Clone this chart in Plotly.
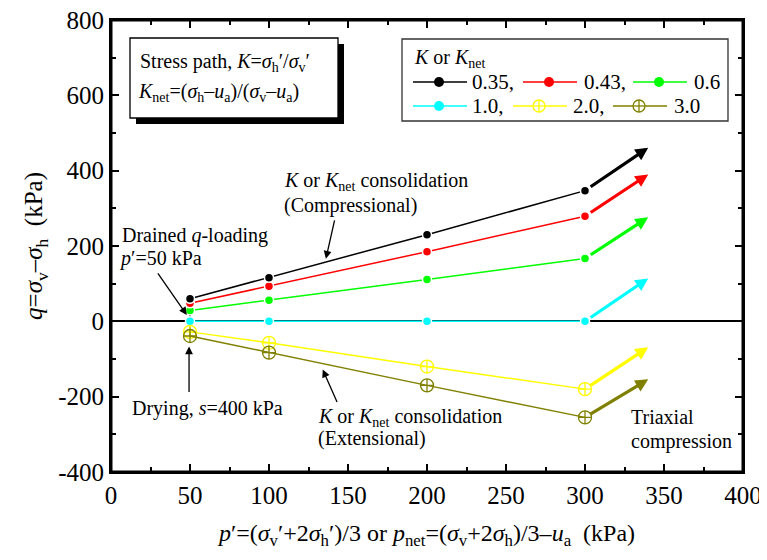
import plotly.graph_objects as go

# ---------------- data ----------------
p_points = [50, 100, 200, 300]          # p' or p_net (kPa)
p_arrow_end = 340                        # end of triaxial compression arrows
k_labels = ["0.35,", "0.43,", "0.6", "1.0,", "2.0,", "3.0"]
q_k035 = [60, 116, 230, 347]
q_k043 = [48, 93, 185, 279]
q_k060 = [29, 56, 111, 167]
q_k100 = [0, 0, 0, 0]
q_k200 = [-28, -57, -120, -180]
q_k300 = [-39, -83, -170, -255]
q_arrow_end = [461, 390, 276, 114, -69, -154]

x_tickvals = [0, 50, 100, 150, 200, 250, 300, 350, 400]
x_ticktext = ["0", "50", "100", "150", "200", "250", "300", "350", "400"]
y_tickvals = [-400, -200, 0, 200, 400, 600, 800]
y_ticktext = ["-400", "-200", "0", "200", "400", "600", "800"]

series_q = [q_k035, q_k043, q_k060, q_k100, q_k200, q_k300]
colors = ["#000000", "#FF0000", "#00FF00", "#00FFFF", "#FFFF00", "#808000"]
symbols = ["circle", "circle", "circle", "circle", "circle-cross-open", "circle-cross-open"]

FONT = "Liberation Serif"

# plot area (page pixels of the reference); the page body adds an 8px offset
PAGE_OFF = 8
RL, RT, W, H = 111, 20, 632, 452
FIG_W, FIG_H = 767, 560
L, T = RL - PAGE_OFF, RT - PAGE_OFF


def pxx(p):
    return (p - RL) / W


def pxy(p):
    return 1 - (p - RT) / H


fig = go.Figure()

# drained q-loading vertical segments (drawn in order so black ends on top)
draw_order = [3, 2, 1, 0, 4, 5]
for i in draw_order:
    fig.add_trace(go.Scatter(
        x=[p_points[0], p_points[0]], y=[0, series_q[i][0]],
        mode="lines", line=dict(color=colors[i], width=1.5),
        showlegend=False, hoverinfo="skip"))

for i in draw_order:
    filled = not symbols[i].endswith("open")
    fig.add_trace(go.Scatter(
        x=p_points, y=series_q[i], mode="lines+markers",
        line=dict(color=colors[i], width=1.5),
        marker=dict(symbol=symbols[i], size=9 if filled else 13,
                    color=colors[i],
                    line=dict(color="white" if filled else colors[i],
                              width=1.5 if filled else 1.3)),
        name=k_labels[i], showlegend=False))

annotations = []
# triaxial compression arrows
for i in range(6):
    annotations.append(dict(
        x=p_arrow_end, y=q_arrow_end[i], xref="x", yref="y",
        ax=p_points[-1], ay=series_q[i][-1], axref="x", ayref="y",
        text="", showarrow=True, arrowhead=2, arrowsize=0.8,
        arrowwidth=3.2, arrowcolor=colors[i], startstandoff=5))

tf = dict(family=FONT, size=20, color="black")


def txt(x, y, s, xanchor="left"):
    annotations.append(dict(x=x, y=y, xref="x", yref="y", text=s,
                            showarrow=False, xanchor=xanchor,
                            yanchor="middle", font=tf))


def arrow(x, y, ax, ay):
    annotations.append(dict(x=x, y=y, xref="x", yref="y", ax=ax, ay=ay,
                            text="", showarrow=True, arrowhead=2,
                            arrowsize=1.2, arrowwidth=1.3,
                            arrowcolor="black"))


txt(6, 228, "Drained <i>q</i>-loading")
txt(4, 166, "<i>p</i>′=50 kPa")
arrow(48, 17, -30, -43)
txt(61, -232, "Drying, <i>s</i>=400 kPa", xanchor="center")
arrow(49.4, -67, 0, 47)
txt(108, 371, "<i>K</i> or <i>K</i><sub>net</sub> consolidation")
txt(108, 307, "(Compressional)")
arrow(136, 166, 9, -40)
txt(130, -255, "<i>K</i> or <i>K</i><sub>net</sub> consolidation")
txt(130, -311, "(Extensional)")
arrow(134, -128, 15, 34)
txt(328, -253, "Triaxial")
txt(328, -319, "compression")

shapes = []
# plot frame (drawn explicitly, slightly inset so it is never hidden)
shapes.append(dict(type="rect", xref="paper", yref="paper",
                   x0=pxx(RL + 0.5), x1=pxx(RL + W - 0.5),
                   y0=pxy(RT + H - 0.5), y1=pxy(RT + 0.5),
                   line=dict(color="black", width=2), layer="above"))
# stress path text box with shadow
shapes.append(dict(type="rect", xref="paper", yref="paper",
                   x0=pxx(136), x1=pxx(344), y0=pxy(124), y1=pxy(44),
                   fillcolor="black", line=dict(width=0), layer="above"))
shapes.append(dict(type="rect", xref="paper", yref="paper",
                   x0=pxx(130), x1=pxx(338), y0=pxy(118), y1=pxy(38),
                   fillcolor="white", line=dict(color="black", width=1.3),
                   layer="above"))


def ptxt(xp, yp, s, size=20):
    annotations.append(dict(x=pxx(xp), y=pxy(yp), xref="paper", yref="paper",
                            text=s, showarrow=False, xanchor="left",
                            yanchor="middle",
                            font=dict(family=FONT, size=size, color="black")))


ptxt(138, 62, "Stress path, <i>K</i>=<i>σ</i><sub>h</sub>′/<i>σ</i><sub>v</sub>′")
ptxt(136, 92, "<i>K</i><sub>net</sub>=(<i>σ</i><sub>h</sub>–<i>u</i><sub>a</sub>)/(<i>σ</i><sub>v</sub>–<i>u</i><sub>a</sub>)")

# custom legend
shapes.append(dict(type="rect", xref="paper", yref="paper",
                   x0=pxx(402), x1=pxx(728), y0=pxy(121), y1=pxy(39),
                   fillcolor="white", line=dict(color="#333333", width=1.3),
                   layer="above"))
ptxt(412, 59, "<i>K</i> or <i>K</i><sub>net</sub>")
leg_pos = [(413, 82, 470), (523, 82, 582), (633, 82, 692),
           (413, 106, 470), (513, 106, 571), (613, 106, 672)]
for i, (lx, ly, tx) in enumerate(leg_pos):
    shapes.append(dict(type="line", xref="paper", yref="paper",
                       x0=pxx(lx), x1=pxx(lx + 54), y0=pxy(ly), y1=pxy(ly),
                       line=dict(color=colors[i], width=1.5), layer="above"))
    cx = lx + 26
    if symbols[i] == "circle":
        r = 5
        shapes.append(dict(type="circle", xref="paper", yref="paper",
                           x0=pxx(cx - r), x1=pxx(cx + r),
                           y0=pxy(ly + r), y1=pxy(ly - r),
                           fillcolor=colors[i], line=dict(width=0),
                           layer="above"))
    else:
        r = 6
        shapes.append(dict(type="circle", xref="paper", yref="paper",
                           x0=pxx(cx - r), x1=pxx(cx + r),
                           y0=pxy(ly + r), y1=pxy(ly - r),
                           fillcolor="white",
                           line=dict(color=colors[i], width=1.3),
                           layer="above"))
        shapes.append(dict(type="line", xref="paper", yref="paper",
                           x0=pxx(cx), x1=pxx(cx), y0=pxy(ly + r),
                           y1=pxy(ly - r),
                           line=dict(color=colors[i], width=1.3),
                           layer="above"))
        shapes.append(dict(type="line", xref="paper", yref="paper",
                           x0=pxx(cx - r), x1=pxx(cx + r), y0=pxy(ly),
                           y1=pxy(ly),
                           line=dict(color=colors[i], width=1.3),
                           layer="above"))
    ptxt(tx, ly, k_labels[i], size=21)

axis_common = dict(showline=True, linecolor="black", linewidth=2,
                   mirror="allticks", ticks="inside", ticklen=8,
                   tickwidth=1.5, tickcolor="black", showgrid=False,
                   ticklabeloverflow="allow",
                   tickfont=dict(family=FONT, size=25, color="black"))

fig.update_layout(
    width=FIG_W, height=FIG_H,
    margin=dict(l=L, r=FIG_W - L - W, t=T, b=FIG_H - T - H, autoexpand=False),
    paper_bgcolor="white", plot_bgcolor="white",
    font=dict(family=FONT, color="black"),
    showlegend=False,
    xaxis=dict(range=[0, 400], tickvals=x_tickvals, ticktext=x_ticktext,
               minor=dict(dtick=25, ticks="inside", ticklen=5,
                          tickwidth=1.5, tickcolor="black"),
               zeroline=False,
               title=dict(text="<i>p</i>′=(<i>σ</i><sub>v</sub>′+2<i>σ</i><sub>h</sub>′)/3 or "
                               "<i>p</i><sub>net</sub>=(<i>σ</i><sub>v</sub>+2<i>σ</i><sub>h</sub>)/3–<i>u</i><sub>a</sub>  (kPa)",
                          font=dict(family=FONT, size=24, color="black"),
                          standoff=16),
               **axis_common),
    yaxis=dict(range=[-400, 800], tickvals=y_tickvals, ticktext=y_ticktext,
               minor=dict(dtick=100, ticks="inside", ticklen=5,
                          tickwidth=1.5, tickcolor="black"),
               zeroline=True, zerolinecolor="black", zerolinewidth=2,
               title=dict(text="<i>q</i>=<i>σ</i><sub>v</sub>–<i>σ</i><sub>h</sub>  (kPa)",
                          font=dict(family=FONT, size=25, color="black"),
                          standoff=8),
               **axis_common),
    shapes=shapes,
    annotations=annotations,
)

fig.write_html("out.html")
